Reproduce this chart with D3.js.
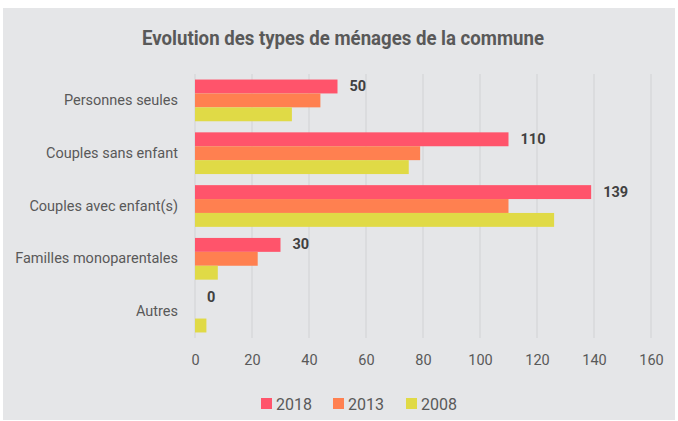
<!DOCTYPE html>
<html>
<head>
<meta charset="utf-8">
<script src="https://cdn.jsdelivr.net/npm/d3@7"></script>
<style>
  html, body { margin: 0; padding: 0; background: #ffffff; }
  svg { display: block; }
</style>
</head>
<body>
<svg id="chart" width="678" height="421"></svg>
<script>
const categories = ["Personnes seules", "Couples sans enfant", "Couples avec enfant(s)", "Familles monoparentales", "Autres"];
const seriesNames = ["2018", "2013", "2008"];
const values2018 = [50, 110, 139, 30, 0];
const values2013 = [44, 79, 110, 22, 0];
const values2008 = [34, 75, 126, 8, 4];
const xTicks = [0, 20, 40, 60, 80, 100, 120, 140, 160];
const colors = ["#ff546b", "#ff8050", "#e0da46"];
const title = "Evolution des types de ménages de la commune";

const seriesValues = [values2018, values2013, values2008];
const svg = d3.select("#chart");
const textCol = "#595959";

svg.append("rect").attr("x", 3).attr("y", 8).attr("width", 672).attr("height", 412).attr("fill", "#e5e6e8");

svg.append("text")
  .attr("x", 343).attr("y", 45)
  .attr("text-anchor", "middle")
  .attr("font-family", "'Liberation Sans Narrow', 'Arial Narrow', Roboto, sans-serif")
  .attr("font-weight", "bold").attr("font-size", 20)
  .attr("textLength", 402).attr("lengthAdjust", "spacingAndGlyphs")
  .attr("fill", textCol).text(title);

const x = d3.scaleLinear().domain([0, 160]).range([195, 651]);
const y = d3.scaleBand().domain(categories).range([74, 338]).paddingInner(0.21).paddingOuter(0.105);
const ys = d3.scaleBand().domain(seriesNames).range([0, y.bandwidth()]);

// grid
svg.append("g").selectAll("line").data(xTicks).join("line")
  .attr("x1", d => x(d)).attr("x2", d => x(d))
  .attr("y1", 74).attr("y2", 338)
  .attr("stroke", "#d6d7d9").attr("stroke-width", 1.3);

// axis
const axis = d3.axisBottom(x).tickValues(xTicks).tickSize(0).tickPadding(0);
const ga = svg.append("g").attr("transform", "translate(0,355)").call(axis);
ga.select(".domain").remove();
ga.selectAll("text").attr("font-family", "Roboto, sans-serif").attr("font-size", 14.5)
  .attr("fill", textCol).attr("dy", "0.71em");

// category labels
svg.append("g").selectAll("text").data(categories).join("text")
  .attr("x", 178).attr("y", d => y(d) + y.bandwidth() / 2)
  .attr("text-anchor", "end").attr("dominant-baseline", "central")
  .attr("font-family", "Roboto, sans-serif").attr("font-size", 14.5)
  .attr("fill", textCol).text(d => d);

// bars
seriesNames.forEach((s, si) => {
  svg.append("g").selectAll("rect").data(categories).join("rect")
    .attr("x", x(0))
    .attr("y", d => y(d) + ys(s))
    .attr("width", (d, i) => x(seriesValues[si][i]) - x(0))
    .attr("height", ys.bandwidth())
    .attr("fill", colors[si]);
});

// value labels (2018)
svg.append("g").selectAll("text").data(categories).join("text")
  .attr("x", (d, i) => x(values2018[i]) + 12)
  .attr("y", d => y(d) + ys("2018") + ys.bandwidth() / 2)
  .attr("dominant-baseline", "central")
  .attr("font-family", "Roboto, sans-serif").attr("font-weight", "bold").attr("font-size", 14.5)
  .attr("fill", "#404040").text((d, i) => values2018[i]);

// legend
const legendX = [261, 333, 406];
const lg = svg.append("g");
seriesNames.forEach((s, i) => {
  lg.append("rect").attr("x", legendX[i]).attr("y", 398).attr("width", 11).attr("height", 11).attr("fill", colors[i]);
  lg.append("text").attr("x", legendX[i] + 15).attr("y", 404)
    .attr("dominant-baseline", "central")
    .attr("font-family", "Roboto, sans-serif").attr("font-size", 16)
    .attr("fill", textCol).text(s);
});
</script>
</body>
</html>
